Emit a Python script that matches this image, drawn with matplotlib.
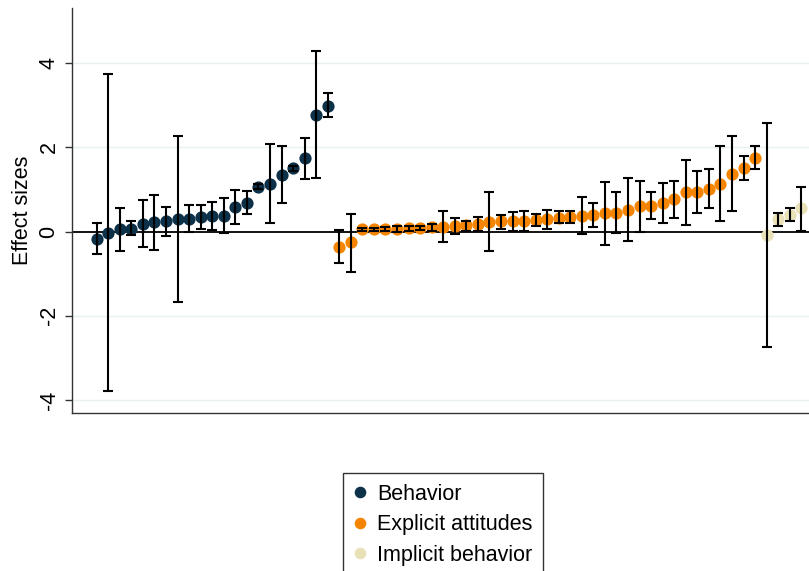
import numpy as np
import matplotlib
matplotlib.use("Agg")
import matplotlib.pyplot as plt

plt.rcParams['font.family'] = ['Liberation Sans', 'DejaVu Sans']

# effect sizes with lower / upper confidence bounds, sorted within group
behavior = [-0.17, -0.03, 0.05, 0.07, 0.19, 0.22, 0.24, 0.29, 0.30, 0.34, 0.37,
            0.38, 0.59, 0.69, 1.07, 1.13, 1.35, 1.50, 1.74, 2.77, 2.99]
behavior_lo = [-0.53, -3.79, -0.47, -0.08, -0.36, -0.44, -0.10, -1.68, -0.01, 0.06, 0.04,
               -0.03, 0.19, 0.42, 1.02, 0.20, 0.67, 1.44, 1.25, 1.28, 2.71]
behavior_hi = [0.20, 3.75, 0.56, 0.24, 0.74, 0.88, 0.58, 2.28, 0.63, 0.62, 0.71,
               0.79, 0.98, 0.97, 1.12, 2.08, 2.03, 1.56, 2.23, 4.28, 3.28]

explicit = [-0.36, -0.25, 0.05, 0.05, 0.06, 0.06, 0.08, 0.09, 0.11, 0.11, 0.13,
            0.16, 0.18, 0.22, 0.25, 0.24, 0.25, 0.28, 0.30, 0.33, 0.35, 0.38,
            0.40, 0.43, 0.45, 0.52, 0.60, 0.61, 0.67, 0.77, 0.93, 0.95, 1.02,
            1.13, 1.36, 1.52, 1.75]
explicit_lo = [-0.75, -0.95, 0.01, 0.02, 0.02, 0.00, 0.02, 0.03, 0.01, -0.25, -0.06,
               0.02, 0.02, -0.47, 0.07, 0.02, 0.02, 0.14, 0.06, 0.21, 0.21, -0.07,
               0.10, -0.32, -0.03, -0.22, 0.00, 0.29, 0.20, 0.31, 0.16, 0.43, 0.57,
               0.25, 0.48, 1.23, 1.48]
explicit_hi = [0.04, 0.42, 0.09, 0.09, 0.10, 0.12, 0.13, 0.14, 0.17, 0.48, 0.32,
               0.25, 0.34, 0.93, 0.39, 0.46, 0.48, 0.42, 0.52, 0.48, 0.49, 0.83,
               0.67, 1.18, 0.93, 1.27, 1.20, 0.95, 1.15, 1.21, 1.70, 1.45, 1.48,
               2.04, 2.27, 1.80, 2.03]

implicit = [-0.08, 0.30, 0.40, 0.56]
implicit_lo = [-2.74, 0.14, 0.26, 0.02]
implicit_hi = [2.57, 0.45, 0.56, 1.07]

groups = [
    ("Behavior", behavior, behavior_lo, behavior_hi, "#0d3149"),
    ("Explicit attitudes", explicit, explicit_lo, explicit_hi, "#f58500"),
    ("Implicit behavior", implicit, implicit_lo, implicit_hi, "#e8e0b6"),
]

fig = plt.figure(figsize=(8.09, 5.71), dpi=100)
ax = fig.add_axes([72 / 809, 1 - 413 / 571, 1 - 72 / 809, (413 - 8) / 571])

for yv in [-4, -2, 2, 4]:
    ax.axhline(yv, color="#e9f0f3", lw=1, zorder=0)
ax.axhline(0, color="black", lw=1.3, zorder=1)

start = 0
for label, vals, lo, hi, col in groups:
    vals = np.array(vals)
    x = np.arange(start, start + len(vals))
    err = [vals - np.array(lo), np.array(hi) - vals]
    ax.plot(x, vals, 'o', ms=8.8, color=col, mec='none', label=label, zorder=2)
    ax.errorbar(x, vals, yerr=err, fmt='none', ecolor='black', elinewidth=1.5,
                capsize=3.6, capthick=1.5, zorder=3)
    start += len(vals)

ax.set_xlim(-2.14, 61.67)
ax.set_ylim(-4.31, 5.31)
ax.set_yticks([-4, -2, 0, 2, 4])
ax.set_yticklabels(['-4', '-2', '0', '2', '4'], rotation=90, va='center', fontsize=15.5)
ax.tick_params(axis='y', length=5, width=1, color='#333333', pad=4)
ax.set_xticks([])
ax.set_ylabel("Effect sizes", fontsize=15.5, labelpad=4)
for s in ['top', 'right']:
    ax.spines[s].set_visible(False)
for s in ['left', 'bottom']:
    ax.spines[s].set_color('#333333')
    ax.spines[s].set_linewidth(1)

leg = fig.legend(loc='upper left', bbox_to_anchor=(343 / 809, 1 - 473 / 571),
                 fontsize=15.5, frameon=True, fancybox=False, edgecolor='black',
                 handlelength=0.6, handletextpad=0.49, borderpad=0.5,
                 labelspacing=0.44, borderaxespad=0, markerscale=0.95)
leg.get_frame().set_linewidth(1)

fig.savefig("out.png", dpi=100)
